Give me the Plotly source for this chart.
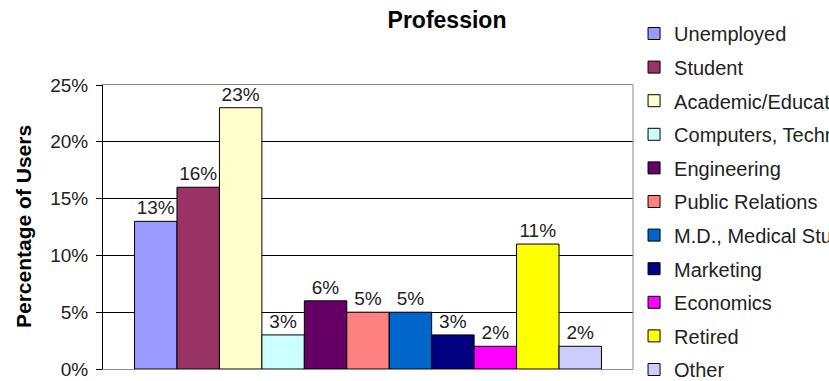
import plotly.graph_objects as go

professions = ["Unemployed", "Student", "Academic/Education", "Computers, Technology",
               "Engineering", "Public Relations", "M.D., Medical Student", "Marketing",
               "Economics", "Retired", "Other"]
percentages = [13, 16, 23, 3, 6, 5, 5, 3, 2, 11, 2]
colors = ["#9999FF", "#993366", "#FFFFCC", "#CCFFFF", "#660066", "#FF8080",
          "#0066CC", "#000080", "#FF00FF", "#FFFF00", "#CCCCFF"]
y_ticks = [0, 5, 10, 15, 20, 25]
y_tick_labels = [f"{v}%" for v in y_ticks]

FONT = "Arial, Liberation Sans, sans-serif"

fig = go.Figure()
for name, val, col in zip(professions, percentages, colors):
    fig.add_trace(go.Bar(
        x=[0], y=[val], name=name, legendgroup=name,
        text=[f"{val}%"], texttemplate="%{text}",
        marker=dict(color=col, line=dict(color="black", width=1)),
        textposition="outside", cliponaxis=False,
        constraintext="none",
        textfont=dict(family=FONT, size=19, color="#222222"),
    ))

fig.update_layout(
    width=829, height=381,
    margin=dict(l=103, r=196, t=85, b=12, autoexpand=False),
    paper_bgcolor="white", plot_bgcolor="white",
    barmode="group", bargap=0.119, bargroupgap=0,
    font=dict(family=FONT, size=19, color="#222222"),
    title=dict(text="<b>Profession</b>", x=447/829, xanchor="center",
               y=1 - 20/381, yanchor="middle",
               font=dict(family=FONT, size=23, color="black")),
    showlegend=True,
    legend=dict(x=1.002, y=1.25, xanchor="left", yanchor="top",
                font=dict(family=FONT, size=20, color="#222222"),
                tracegroupgap=4.6, bgcolor="rgba(0,0,0,0)", maxheight=2000),
    xaxis=dict(range=[-0.5, 0.5], showticklabels=False, ticks="",
               showgrid=False, zeroline=False,
               showline=True, mirror=True, linecolor="#888888", linewidth=1),
    yaxis=dict(range=[0, 25], tickvals=y_ticks, ticktext=y_tick_labels,
               showgrid=True, gridcolor="black", gridwidth=1,
               zeroline=False, showline=True, linecolor="black", linewidth=1,
               ticks="outside", ticklen=6, tickcolor="black",
               ticklabelstandoff=4,
               tickfont=dict(family=FONT, size=19, color="#222222")),
    shapes=[dict(type="line", xref="paper", yref="paper", x0=1, x1=1, y0=0, y1=1,
                 line=dict(color="#888888", width=1))],
    annotations=[dict(text="<b>Percentage of Users</b>", xref="paper", yref="paper",
                      x=(23 - 103) / 530, y=0.5, xanchor="center", yanchor="middle",
                      textangle=-90, showarrow=False,
                      font=dict(family=FONT, size=21, color="black"))],
)

fig.write_html("out.html")
